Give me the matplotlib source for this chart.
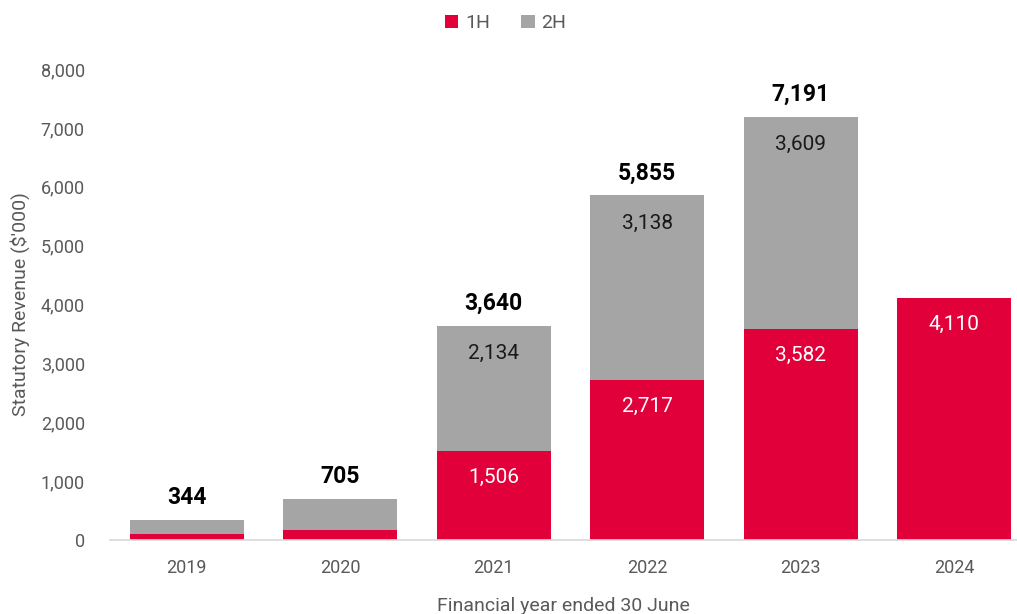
import matplotlib.pyplot as plt
import numpy as np

years = ['2019', '2020', '2021', '2022', '2023', '2024']
first_half = [100, 170, 1506, 2717, 3582, 4110]
second_half = [244, 535, 2134, 3138, 3609, 0]
totals = [344, 705, 3640, 5855, 7191, None]

RED = '#E2003B'
GREY = '#A5A5A5'
TEXT = '#595959'

plt.rcParams['font.family'] = ['Roboto', 'DejaVu Sans']

fig = plt.figure(figsize=(10.17, 6.14), dpi=100)
ax = fig.add_axes([0.108, 0.1205, 0.892, 0.767])

x = np.arange(len(years))
w = 0.743
ax.bar(x, first_half, w, color=RED, label='1H', zorder=2)
ax.bar(x, second_half, w, bottom=first_half, color=GREY, label='2H', zorder=2)

# labels sit just inside the top of each segment (inside-end style)
for i in range(len(years)):
    if first_half[i] > 1000:
        ax.annotate(f'{first_half[i]:,}', (x[i], first_half[i]), xytext=(0, -26),
                    textcoords='offset pixels', ha='center', va='center',
                    color='white', fontsize=15)
    if second_half[i] > 1000:
        ax.annotate(f'{second_half[i]:,}', (x[i], first_half[i] + second_half[i]),
                    xytext=(0, -28), textcoords='offset pixels', ha='center',
                    va='center', color='#1a1a1a', fontsize=15)
    if totals[i] is not None:
        ax.annotate(f'{totals[i]:,}', (x[i], totals[i]), xytext=(0, 22),
                    textcoords='offset pixels', ha='center', va='center',
                    color='black', fontsize=16.5, fontweight='bold')

ax.set_xlim(-0.5, 5.41)
ax.set_ylim(0, 8000)
ax.set_yticks(range(0, 8001, 1000))
ax.set_yticklabels([f'{v:,}' for v in range(0, 8001, 1000)])
ax.set_xticks(x)
ax.set_xticklabels(years)
ax.tick_params(axis='both', length=0, labelsize=13, colors=TEXT, pad=14)
ax.tick_params(axis='y', pad=18)

for s in ['top', 'right', 'left']:
    ax.spines[s].set_visible(False)
ax.spines['bottom'].set_color('#D9D9D9')
ax.spines['bottom'].set_linewidth(1.2)

ax.set_ylabel("Statutory Revenue ($'000)", fontsize=14, color=TEXT, labelpad=8)
ax.set_xlabel('Financial year ended 30 June', fontsize=14, color=TEXT, labelpad=14)

fig.legend(loc='upper center', bbox_to_anchor=(0.497, 1.005), ncol=2, frameon=False,
           fontsize=14, labelcolor=TEXT, handlelength=0.7, handleheight=0.7,
           handletextpad=0.35, columnspacing=1.6)

fig.savefig('out.png', dpi=100)
